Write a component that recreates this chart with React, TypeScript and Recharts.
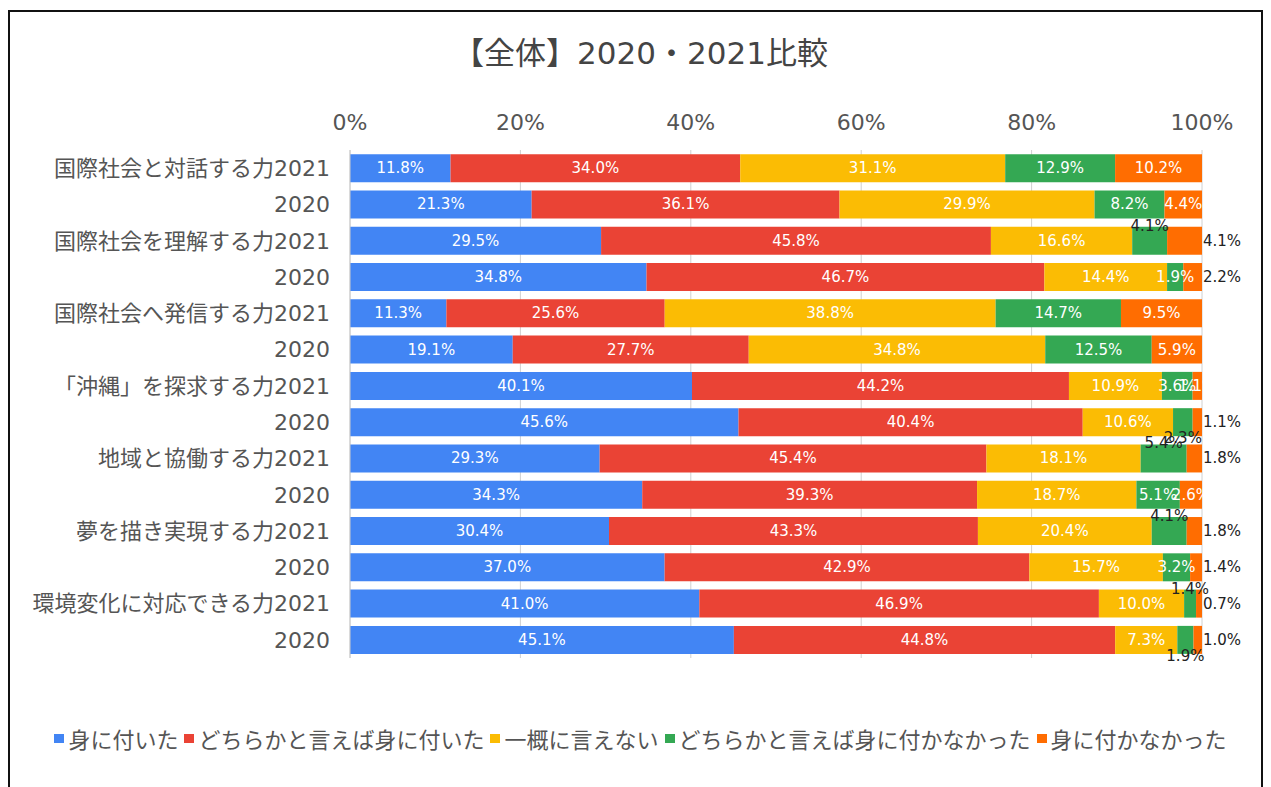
import React from 'react';
import { BarChart, Bar, XAxis, YAxis, CartesianGrid, Legend, LabelList } from 'recharts';

// 能力の項目（各項目に 2021 / 2020 の 2 行）
const abilities = [
  '国際社会と対話する力',
  '国際社会を理解する力',
  '国際社会へ発信する力',
  '「沖縄」を探求する力',
  '地域と協働する力',
  '夢を描き実現する力',
  '環境変化に対応できる力',
];
const years = ['2021', '2020'];

const seriesNames = [
  '身に付いた',
  'どちらかと言えば身に付いた',
  '一概に言えない',
  'どちらかと言えば身に付かなかった',
  '身に付かなかった',
];

// 行順: 各項目 2021, 2020
const gotIt = [11.8, 21.3, 29.5, 34.8, 11.3, 19.1, 40.1, 45.6, 29.3, 34.3, 30.4, 37.0, 41.0, 45.1];
const ratherGot = [34.0, 36.1, 45.8, 46.7, 25.6, 27.7, 44.2, 40.4, 45.4, 39.3, 43.3, 42.9, 46.9, 44.8];
const cannotSay = [31.1, 29.9, 16.6, 14.4, 38.8, 34.8, 10.9, 10.6, 18.1, 18.7, 20.4, 15.7, 10.0, 7.3];
const ratherNot = [12.9, 8.2, 4.1, 1.9, 14.7, 12.5, 3.6, 2.3, 5.4, 5.1, 4.1, 3.2, 1.4, 1.9];
const notGot = [10.2, 4.4, 4.1, 2.2, 9.5, 5.9, 1.1, 1.1, 1.8, 2.6, 1.8, 1.4, 0.7, 1.0];

const xTicks = [0, 0.2, 0.4, 0.6, 0.8, 1];

// 小さい値のラベル位置（元のグラフの配置）
type Place = 'in' | 'above' | 'below' | 'right';
const ratherNotPlace: Place[] = ['in', 'in', 'above', 'in', 'in', 'in', 'in', 'below', 'above', 'in', 'above', 'in', 'above', 'below'];
const notGotPlace: Place[] = ['in', 'in', 'right', 'right', 'in', 'in', 'in', 'right', 'right', 'in', 'right', 'right', 'right', 'right'];

const COLORS = ['#4285F4', '#EA4335', '#FBBC04', '#34A853', '#FF6D01'];
const KEYS = ['s0', 's1', 's2', 's3', 's4'];
const SERIES = [gotIt, ratherGot, cannotSay, ratherNot, notGot];
const PLACES: (Place[] | null)[] = [null, null, null, ratherNotPlace, notGotPlace];

const FONT = "'DejaVu Sans', 'Noto Sans CJK JP', sans-serif";

const rows = abilities.flatMap((a, i) =>
  years.map((y, j) => {
    const idx = i * 2 + j;
    const row: Record<string, any> = { id: String(idx), label: j === 0 ? a + y : y };
    SERIES.forEach((s, k) => (row[KEYS[k]] = s[idx]));
    return row;
  })
);

const makeLabel = (values: number[], places: Place[] | null) => (p: any) => {
  const { x, y, width, height, index } = p;
  const place = places ? places[index] : 'in';
  let tx = x + width / 2;
  let ty = y + height / 2;
  let anchor: 'middle' | 'start' = 'middle';
  let fill = '#fff';
  if (place === 'above') {
    ty = y - 1;
    fill = '#222';
  } else if (place === 'below') {
    ty = y + height + 2;
    fill = '#222';
  } else if (place === 'right') {
    tx = x + width + 1;
    anchor = 'start';
    fill = '#222';
  }
  return (
    <text x={tx} y={ty} textAnchor={anchor} dominantBaseline="central" fill={fill} fontSize={15} fontFamily={FONT}>
      {values[index].toFixed(1)}%
    </text>
  );
};

const renderLegend = () => (
  <div style={{ display: 'flex', justifyContent: 'center', fontFamily: FONT, fontSize: 22, color: '#555', whiteSpace: 'nowrap', paddingLeft: 10 }}>
    {seriesNames.map((n, i) => (
      <span key={n} style={{ display: 'flex', alignItems: 'center', marginRight: i < seriesNames.length - 1 ? 6 : 0 }}>
        <span style={{ display: 'inline-block', width: 10, height: 9, background: COLORS[i], marginRight: 4 }} />
        {n}
      </span>
    ))}
  </div>
);

export default function App() {
  return (
    <div
      style={{
        position: 'relative',
        width: 1251,
        height: 776,
        marginTop: 2,
        border: '2px solid #111',
        background: '#fff',
        fontFamily: FONT,
      }}
    >
      <div
        style={{
          position: 'absolute',
          top: 24,
          left: 10,
          right: 0,
          textAlign: 'center',
          fontSize: 31,
          lineHeight: '34px',
          color: '#444',
        }}
      >
        【全体】2020・2021比較
      </div>
      <BarChart
        width={1251}
        height={776}
        layout="vertical"
        data={rows}
        stackOffset="expand"
        barCategoryGap="11.5%"
        margin={{ top: 108, right: 59, left: 0, bottom: 130 }}
      >
        <CartesianGrid horizontal={false} stroke="#d0d0d0" />
        <XAxis
          type="number"
          orientation="top"
          domain={[0, 1]}
          ticks={xTicks}
          tickFormatter={(v: number) => `${Math.round(v * 100)}%`}
          axisLine={false}
          tickLine={false}
          tickMargin={14}
          height={30}
          tick={{ fill: '#555', fontSize: 22, fontFamily: FONT }}
        />
        <YAxis
          type="category"
          dataKey="id"
          width={340}
          tickFormatter={(v: string) => rows[Number(v)].label}
          axisLine={{ stroke: '#ccc' }}
          tickLine={false}
          tickMargin={14}
          tick={{ fill: '#555', fontSize: 22, fontFamily: FONT }}
        />
        <Legend verticalAlign="middle" content={renderLegend} wrapperStyle={{ top: 710, left: 0, width: 1251 }} />
        {KEYS.map((k, i) => (
          <Bar key={k} dataKey={k} name={seriesNames[i]} stackId="a" fill={COLORS[i]} isAnimationActive={false}>
            <LabelList dataKey={k} content={makeLabel(SERIES[i], PLACES[i])} />
          </Bar>
        ))}
      </BarChart>
    </div>
  );
}
